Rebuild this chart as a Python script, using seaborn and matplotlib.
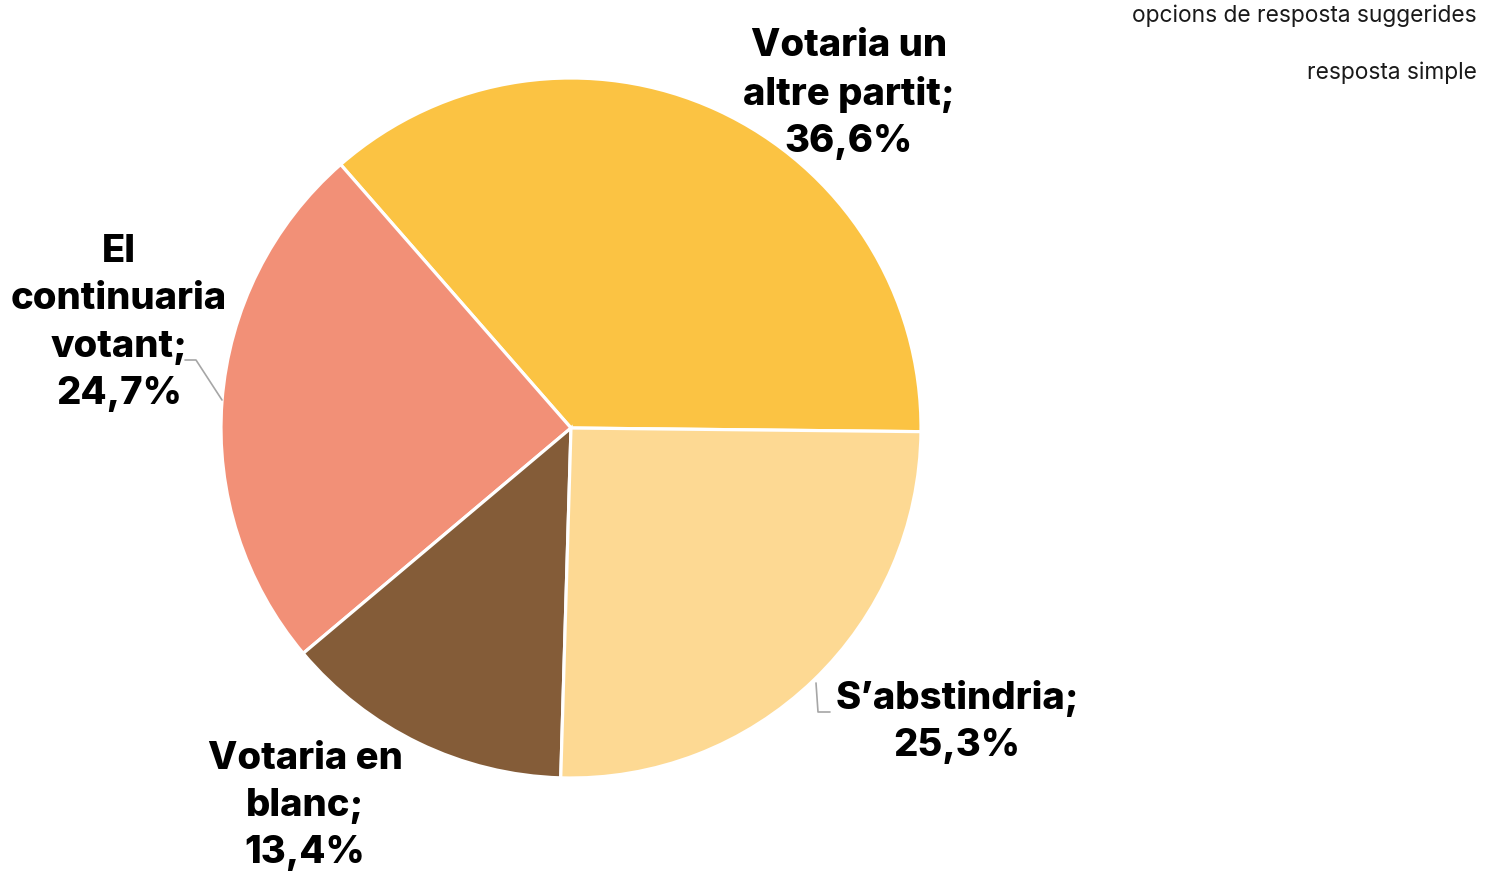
import matplotlib
matplotlib.use("Agg")
import matplotlib.pyplot as plt
import seaborn as sns

# Data
categories = ["Votaria un altre partit", "El continuaria votant", "Votaria en blanc", "S\u2019abstindria"]
values = [36.6, 24.7, 13.4, 25.3]
label_texts = [
    "Votaria un\naltre partit;\n36,6%",
    "El\ncontinuaria\nvotant;\n24,7%",
    "Votaria en\nblanc;\n13,4%",
    "S\u2019abstindria;\n25,3%",
]
colors = ["#FBC343", "#F29077", "#845C38", "#FDD993"]
header_lines = ["opcions de resposta suggerides", "resposta simple"]

sns.set_theme(style="white")
plt.rcParams['font.family'] = ['Inter', 'Lato', 'DejaVu Sans']
palette = sns.color_palette(colors)

W, H = 1497, 872
fig = plt.figure(figsize=(W / 100, H / 100), dpi=100)
ax = fig.add_axes([0, 0, 1, 1])

# pie centre / radius in pixel space (y axis flipped below)
ax.pie(values, colors=palette, center=(571, 428), radius=350,
       startangle=0.6, counterclock=False,
       wedgeprops=dict(edgecolor='white', linewidth=2.3))
ax.set_xlim(0, W)
ax.set_ylim(H, 0)
ax.set_aspect('equal')
ax.axis('off')

# data labels
label_pos = [(849, 94), (119, 323), (305, 806), (957, 722)]
for txt, (x, y) in zip(label_texts, label_pos):
    ax.text(x, y, txt, ha='center', va='center', fontsize=27.5, fontweight='heavy',
            color='black', linespacing=1.4)

# leader lines
ax.plot([185, 196, 222], [360, 360, 400], color='#A6A6A6', lw=1.2)
ax.plot([816, 818, 830], [683, 712, 712], color='#A6A6A6', lw=1.2)

# header text
ax.text(1477, 16, header_lines[0], ha='right', va='center', fontsize=16.4, color='#1a1a1a')
ax.text(1477, 73, header_lines[1], ha='right', va='center', fontsize=16.4, color='#1a1a1a')

fig.savefig("out.png", dpi=100)
